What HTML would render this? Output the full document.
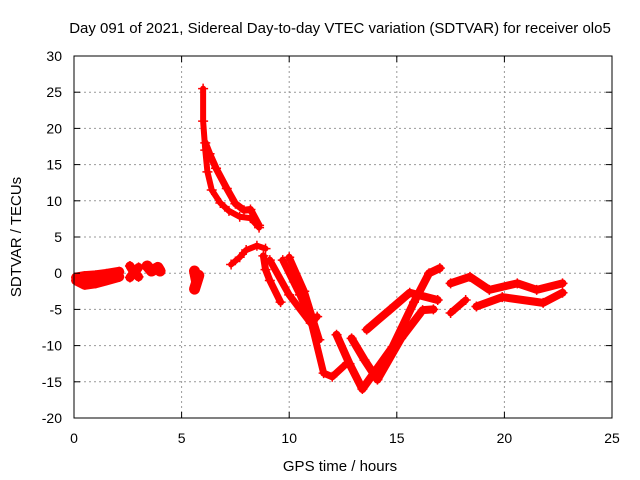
<!DOCTYPE html>
<html><head><meta charset="utf-8"><style>
body{margin:0;background:#fff;}
svg{display:block;font-family:"Liberation Sans",sans-serif;}
</style></head><body>
<svg id="c" width="640" height="480">
<text x="340" y="33" text-anchor="middle" font-size="15">Day 091 of 2021, Sidereal Day-to-day VTEC variation (SDTVAR) for receiver olo5</text>
<text x="340" y="471" text-anchor="middle" font-size="15">GPS time / hours</text>
<text transform="translate(21,237) rotate(-90)" text-anchor="middle" font-size="15">SDTVAR / TECUs</text>
<g id="grid"></g><g id="marks"></g><g id="axes"></g>
</svg>
<script>
const xTicks=[0,5,10,15,20,25];
const yTicks=[-20,-15,-10,-5,0,5,10,15,20,25,30];
// tracks: hours and values
const t1h=[0.1,0.5,1,1.5,2.1];const t1v=[-0.6,-0.4,-0.3,-0.1,0.2];
const t2h=[0.1,0.5,1,1.5,2.1];const t2v=[-1,-1.6,-1.4,-1,-0.5];
const t3h=[2.6,2.8,3.0];const t3v=[1.0,0,0.8];
const t3bh=[2.6,2.8,3.0];const t3bv=[-0.6,0.2,-0.5];
const t4h=[3.4,3.6,3.9,4.0];const t4v=[1.0,0.3,0.8,0.3];
const t5h=[5.6,5.7,5.8,5.6];const t5v=[0.3,-1.2,-0.3,-2.2];
const t6h=[6.0,6.0,6.1,6.2,6.4,6.8,7.2,7.7,8.2,8.6];const t6v=[25.5,21,17,14,11.5,9.7,8.6,7.8,7.6,6.3];
const t7h=[6.1,6.3,6.6,7.1,7.5,7.9,8.2,8.6];const t7v=[18,16.5,14.5,11.7,9.6,8.7,8.8,6.6];
const t8h=[7.3,7.7,8.0,8.5,8.9];const t8v=[1.2,2.2,3.2,3.8,3.4];
const t9h=[8.8,8.9,9.1,9.6];const t9v=[2.4,0.5,-1,-4];
const t10h=[9.7,10.5,11.0,11.6,12.0,12.7];const t10v=[1.8,-3,-6.5,-13.8,-14.3,-12.4];
const t11h=[10.0,10.7,11.4];const t11v=[2.2,-2.5,-9.2];
const t12h=[9.1,10.0,11.0,11.3];const t12v=[1.8,-3,-6.9,-6];
const t13h=[12.2,12.8,13.4,14.8,15.8,16.5,17.0];const t13v=[-8.5,-12.5,-16,-10.2,-4,0,0.7];
const t14h=[12.9,13.5,14.1,15.2,16.2,16.7];const t14v=[-9,-12,-14.7,-9,-5.1,-5];
const t15h=[13.6,14.7,15.6,16.9];const t15v=[-7.8,-5,-2.7,-3.7];
const t16h=[17.5,18.4,19.3,20.6,21.5,22.7];const t16v=[-1.4,-0.5,-2.3,-1.4,-2.3,-1.4];
const t17h=[18.7,19.9,21.8,22.7];const t17v=[-4.6,-3.3,-4.1,-2.7];
const t18h=[17.5,18.2];const t18v=[-5.5,-3.7];
const tracks=[[t1h,t1v],[t2h,t2v],[t3h,t3v],[t3bh,t3bv],[t4h,t4v],[t5h,t5v],[t6h,t6v],[t7h,t7v],[t8h,t8v],[t9h,t9v],[t10h,t10v],[t11h,t11v],[t12h,t12v],[t13h,t13v],[t14h,t14v],[t15h,t15v],[t16h,t16v],[t17h,t17v],[t18h,t18v]];
const widths=[10,10,9,9,11,11,6,7,6,7,7,7,7,8,8,8,8,8,7];
const X0=74,X1=612,Y0=418,Y1=56;
const xs=h=>X0+h/25*(X1-X0);
const ys=v=>Y0-(v+20)/50*(Y0-Y1);
const NS="http://www.w3.org/2000/svg";
function mk(tag,parent,attrs){const e=document.createElementNS(NS,tag);for(const k in attrs)e.setAttribute(k,attrs[k]);parent.appendChild(e);return e;}
const grid=document.getElementById('grid'),axes=document.getElementById('axes'),marks=document.getElementById('marks');
xTicks.forEach(t=>{const x=xs(t);
 if(t>0&&t<25){const g=mk('line',grid,{x1:x,x2:x,y1:Y1,y2:Y0,stroke:'#999','stroke-dasharray':'2,3'});
 
 }
 mk('line',axes,{x1:x,x2:x,y1:Y0,y2:Y0-6,stroke:'#000'});mk('line',axes,{x1:x,x2:x,y1:Y1,y2:Y1+6,stroke:'#000'});
 const l=mk('text',axes,{x:x,y:Y0+25,'text-anchor':'middle','font-size':'14'});l.textContent=t;
 
 });
yTicks.forEach(t=>{const y=ys(t);
 if(t>-20&&t<30){const g=mk('line',grid,{x1:X0,x2:X1,y1:y,y2:y,stroke:'#999','stroke-dasharray':'2,3'});
 
 }
 mk('line',axes,{x1:X0,x2:X0+6,y1:y,y2:y,stroke:'#000'});mk('line',axes,{x1:X1,x2:X1-6,y1:y,y2:y,stroke:'#000'});
 const l=mk('text',axes,{x:X0-12,y:y+5,'text-anchor':'end','font-size':'14'});l.textContent=t;
 
 });
const box=mk('rect',axes,{x:X0,y:Y1,width:X1-X0,height:Y0-Y1,fill:'none',stroke:'#000'});


tracks.forEach(([hs,vs],k)=>{
 const pts=hs.map((h,i)=>xs(h)+','+ys(vs[i])).join(' ');
 const p=mk('polyline',marks,{points:pts,fill:'none',stroke:'#f00','stroke-width':widths[k],'stroke-linejoin':'round','stroke-linecap':'round'});
 
 
 hs.forEach((h,i)=>{const x=xs(h),y=ys(vs[i]);
  const m=mk('path',marks,{d:`M${x-5},${y}H${x+5}M${x},${y-5}V${y+5}`,stroke:'#f00','stroke-width':1.5});
  
  });
});
</script>
</body></html>
